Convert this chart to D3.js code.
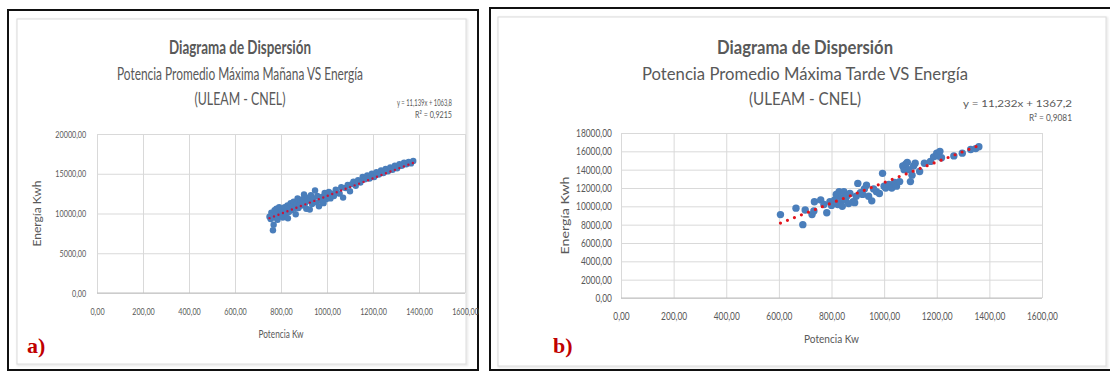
<!DOCTYPE html>
<html>
<head>
<meta charset="utf-8">
<script src="https://cdn.jsdelivr.net/npm/d3@7"></script>
<style>
  html, body { margin: 0; padding: 0; background: #ffffff; }
  svg { display: block; }
  text { font-family: Lato, "Open Sans", "Noto Sans", sans-serif; }
</style>
</head>
<body>
<script>
// Monthly readings: average maximum power (kW) against energy (kWh)
const morningPower = [
  750, 755, 758, 762, 765, 768, 770, 772, 776, 780, 785, 788, 792, 796, 800, 804,
  808, 812, 816, 820, 824, 828, 830, 834, 838, 842, 846, 850, 855, 860, 864, 868,
  872, 876, 880, 885, 890, 895, 900, 905, 910, 915, 920, 925, 930, 935, 940, 948,
  952, 958, 965, 972, 980, 985, 990, 996, 1002, 1008, 1015, 1022, 1030, 1038, 1045,
  1055, 1062, 1070, 1080, 1090, 1100, 1108, 1115, 1125, 1135, 1145, 1155, 1165,
  1175, 1185, 1195, 1205, 1215, 1225, 1235, 1245, 1255, 1265, 1275, 1285, 1295,
  1305, 1315, 1325, 1335, 1345, 1355, 1365, 1375
];
const morningEnergy = [
  9600, 9300, 10100, 9800, 7900, 8600, 9500, 10400, 9900, 10600, 9200, 10200, 10800, 9700, 9900, 10500,
  9500, 10200, 10800, 9800, 10600, 11000, 9400, 10200, 10800, 11300, 10400, 11000, 11500, 10700, 9900, 11200,
  11900, 10700, 11100, 11700, 11000, 11800, 12400, 11300, 10600, 12000, 11600, 10500, 12300, 11200, 11900, 12900,
  11400, 12200, 10900, 11600, 12100, 11300, 12600, 11800, 12300, 12700, 11900, 12500, 12200, 13000, 12600,
  12500, 13300, 12000, 13200, 13600, 12800, 13700, 14000, 13500, 14200, 13900, 14600, 14300,
  14800, 14400, 15000, 14600, 15200, 14900, 15400, 15100, 15600, 15300, 15800, 15500, 16000,
  15700, 16200, 16000, 16400, 16200, 16500, 16300, 16600
];
const afternoonPower = [
  606, 665, 691, 700, 726, 733, 735, 759, 771, 782, 794, 800, 812, 818, 824, 829,
  835, 838, 841, 847, 853, 858, 865, 870, 882, 888, 894, 900, 910, 918, 925, 933,
  941, 953, 960, 971, 982, 994, 1000, 1006, 1018, 1029, 1040, 1047, 1059, 1071,
  1076, 1082, 1088, 1094, 1100, 1106, 1112, 1118, 1135, 1153, 1176, 1188, 1200,
  1206, 1212, 1218, 1265, 1297, 1329, 1348, 1360
];
const afternoonEnergy = [
  9100, 9800, 8000, 9600, 9100, 9500, 10500, 10700, 10200, 9300, 10500, 10100, 10700, 11300, 10200, 11600,
  10400, 10900, 10000, 11600, 10700, 11100, 10300, 11400, 10500, 10400, 11100, 12500, 11500, 11300, 11900, 12300,
  11100, 10600, 11900, 11600, 11400, 13600, 12200, 12000, 12400, 12000, 12600, 12200, 12700, 14400,
  14000, 14600, 14800, 14000, 12700, 13400, 14400, 14700, 13800, 14700, 14900, 15400, 15800,
  15500, 16000, 15300, 15500, 15800, 16200, 16300, 16500
];

// Linear fits (slope, intercept, R²) shown on each chart
const morningFit = [11.139, 1063.8, 0.9215];
const afternoonFit = [11.232, 1367.2, 0.9081];

// Axis ticks
const powerTicks = [0, 200, 400, 600, 800, 1000, 1200, 1400, 1600];
const morningEnergyTicks = [0, 5000, 10000, 15000, 20000];
const afternoonEnergyTicks = [0, 2000, 4000, 6000, 8000, 10000, 12000, 14000, 16000, 18000];

const titleText = "Diagrama de Dispersión";
const morningSubtitle = "Potencia Promedio Máxima Mañana VS Energía";
const afternoonSubtitle = "Potencia Promedio Máxima Tarde VS Energía";
const companyText = "(ULEAM - CNEL)";
const xTitle = "Potencia Kw";
const yTitle = "Energía Kwh";

const locale = d3.formatLocale({ decimal: ",", thousands: "", grouping: [3], currency: ["", ""] });
const fmt2 = locale.format(".2f");
const fmt3 = locale.format(".3f");
const fmt4 = locale.format(".4f");
const fmt1 = locale.format(".1f");

const W = 1110, H = 372;
const GREY = "#595959";
const svg = d3.select("body").append("svg").attr("width", W).attr("height", H);
svg.append("rect").attr("width", W).attr("height", H).attr("fill", "#fff");

const defs = svg.append("defs");
const blur = defs.append("filter").attr("id", "soft").attr("x", "-5%").attr("y", "-5%").attr("width", "110%").attr("height", "110%");
blur.append("feGaussianBlur").attr("stdDeviation", 1.2);

// Text helper: horizontally condensed glyphs, fitted to a given width when asked
function label(g, txt, x, y, o) {
  const t = g.append("text")
    .attr("x", x).attr("y", y)
    .attr("text-anchor", o.anchor || "middle")
    .attr("font-size", o.size)
    .attr("font-weight", o.weight || "normal")
    .attr("fill", o.fill || GREY)
    .text(txt);
  if (o.width) t.attr("textLength", o.width).attr("lengthAdjust", "spacingAndGlyphs");
  if (o.rotate) t.attr("transform", `rotate(${o.rotate},${x},${y})`);
  if (o.family) t.style("font-family", o.family);
  return t;
}

function panel(cfg) {
  const g = svg.append("g");
  // frame
  g.append("rect")
    .attr("x", cfg.inner[0] + 1).attr("y", cfg.inner[1] + 1)
    .attr("width", cfg.inner[2]).attr("height", cfg.inner[3])
    .attr("fill", "none").attr("stroke", "#e6e6e6").attr("stroke-width", 2)
    .attr("filter", "url(#soft)");
  g.append("rect")
    .attr("x", cfg.inner[0]).attr("y", cfg.inner[1])
    .attr("width", cfg.inner[2]).attr("height", cfg.inner[3])
    .attr("fill", "#fff").attr("stroke", "#dcdcdc").attr("stroke-width", 1);
  g.append("rect")
    .attr("x", cfg.outer[0]).attr("y", cfg.outer[1])
    .attr("width", cfg.outer[2]).attr("height", cfg.outer[3])
    .attr("fill", "none").attr("stroke", "#111").attr("stroke-width", 2);

  const x = d3.scaleLinear().domain([0, 1600]).range(cfg.xRange);
  const y = d3.scaleLinear().domain([0, d3.max(cfg.yTicks)]).range(cfg.yRange);

  // horizontal grid + y tick labels
  const ya = g.append("g").attr("transform", `translate(${cfg.xRange[0]},0)`)
    .call(d3.axisLeft(y).tickValues(cfg.yTicks).tickFormat(fmt2)
      .tickSize(-(cfg.xRange[1] - cfg.xRange[0])).tickPadding(cfg.yPad));
  ya.select(".domain").remove();
  ya.selectAll("line").attr("stroke", "#d9d9d9");
  ya.selectAll("text").attr("fill", GREY).attr("font-size", cfg.tickSize)
    .attr("transform", `scale(${cfg.tickScale},1)`);

  // vertical grid + x tick labels
  const xa = g.append("g").attr("transform", `translate(0,${cfg.yRange[0]})`)
    .call(d3.axisBottom(x).tickValues(powerTicks).tickFormat(fmt2)
      .tickSize(-(cfg.yRange[0] - cfg.yRange[1])).tickPadding(cfg.xPad));
  xa.select(".domain").remove();
  xa.selectAll("line").attr("stroke", "#d9d9d9");
  xa.selectAll("text").attr("fill", GREY).attr("font-size", cfg.tickSize)
    .attr("transform", `scale(${cfg.tickScale},1)`);
  // bottom axis line
  g.append("line")
    .attr("x1", cfg.xRange[0]).attr("x2", cfg.xRange[1])
    .attr("y1", y(0)).attr("y2", y(0))
    .attr("stroke", "#bfbfbf");

  // points
  const pts = cfg.px.map((v, i) => [v, cfg.py[i]]);
  g.append("g").selectAll("circle").data(pts).join("circle")
    .attr("cx", d => x(d[0])).attr("cy", d => y(d[1]))
    .attr("r", cfg.r).attr("fill", "#4a7ebb");

  // dotted trend line over the data range
  const [m, b, r2] = cfg.fit;
  const x0 = d3.min(cfg.px), x1 = d3.max(cfg.px);
  g.append("line")
    .attr("x1", x(x0)).attr("y1", y(m * x0 + b))
    .attr("x2", x(x1)).attr("y2", y(m * x1 + b))
    .attr("stroke", cfg.dotColor).attr("stroke-width", cfg.dotW)
    .attr("stroke-linecap", "round").attr("stroke-dasharray", `0,${cfg.dotGap}`);

  // titles
  label(g, titleText, cfg.cx, cfg.tY[0], { size: cfg.tSize[0], weight: "bold", width: cfg.tW[0] });
  label(g, cfg.subtitle, cfg.cx, cfg.tY[1], { size: cfg.tSize[1], width: cfg.tW[1] });
  label(g, companyText, cfg.cx, cfg.tY[2], { size: cfg.tSize[1], width: cfg.tW[2] });

  // equation
  label(g, `y = ${fmt3(m)}x + ${fmt1(b)}`, cfg.eqX, cfg.eqY[0], { size: cfg.eqSize, anchor: "end", width: cfg.eqW[0] });
  label(g, `R² = ${fmt4(r2)}`, cfg.eqX, cfg.eqY[1], { size: cfg.eqSize, anchor: "end", width: cfg.eqW[1] });

  // axis titles
  label(g, xTitle, (cfg.xRange[0] + cfg.xRange[1]) / 2, cfg.xTitleY, { size: cfg.axSize, width: cfg.xTitleW });
  label(g, yTitle, cfg.yTitleX, (cfg.yRange[0] + cfg.yRange[1]) / 2, { size: cfg.axSize, width: cfg.yTitleW, rotate: -90 });

  // panel letter
  label(g, cfg.letter, cfg.letterX, cfg.letterY, {
    size: 22, weight: "bold", anchor: "start", fill: "#c00000",
    family: "'Liberation Serif', 'DejaVu Serif', serif"
  });
}

panel({
  outer: [8, 10, 470, 360], inner: [17, 19, 449, 345],
  xRange: [97, 465], yRange: [293, 134], yTicks: morningEnergyTicks,
  px: morningPower, py: morningEnergy, fit: morningFit, r: 3.2,
  dotW: 2.4, dotGap: 4.8, dotColor: "#c8143c",
  tickSize: 10, tickScale: 0.72, yPad: 15, xPad: 15,
  cx: 240, tY: [54, 80, 105], tSize: [18, 17], tW: [142, 246, 91], subtitle: morningSubtitle,
  eqX: 452, eqY: [106, 118], eqSize: 9, eqW: [55, 37],
  xTitleY: 338, xTitleW: 45, yTitleX: 41, yTitleW: 66, axSize: 11,
  letter: "a)", letterX: 27, letterY: 353
});

panel({
  outer: [490, 8, 622, 362], inner: [498, 17, 608, 349],
  xRange: [621, 1042], yRange: [298, 133], yTicks: afternoonEnergyTicks,
  px: afternoonPower, py: afternoonEnergy, fit: afternoonFit, r: 3.7,
  dotW: 3.2, dotGap: 7.5, dotColor: "#e3141c",
  tickSize: 11, tickScale: 0.76, yPad: 12, xPad: 14,
  cx: 805, tY: [54, 80, 105], tSize: [19, 18], tW: [176, 326, 112], subtitle: afternoonSubtitle,
  eqX: 1072, eqY: [107, 121], eqSize: 10, eqW: [109, 43],
  xTitleY: 343, xTitleW: 55, yTitleX: 569, yTitleW: 78, axSize: 12,
  letter: "b)", letterX: 553, letterY: 353
});
</script>
</body>
</html>
